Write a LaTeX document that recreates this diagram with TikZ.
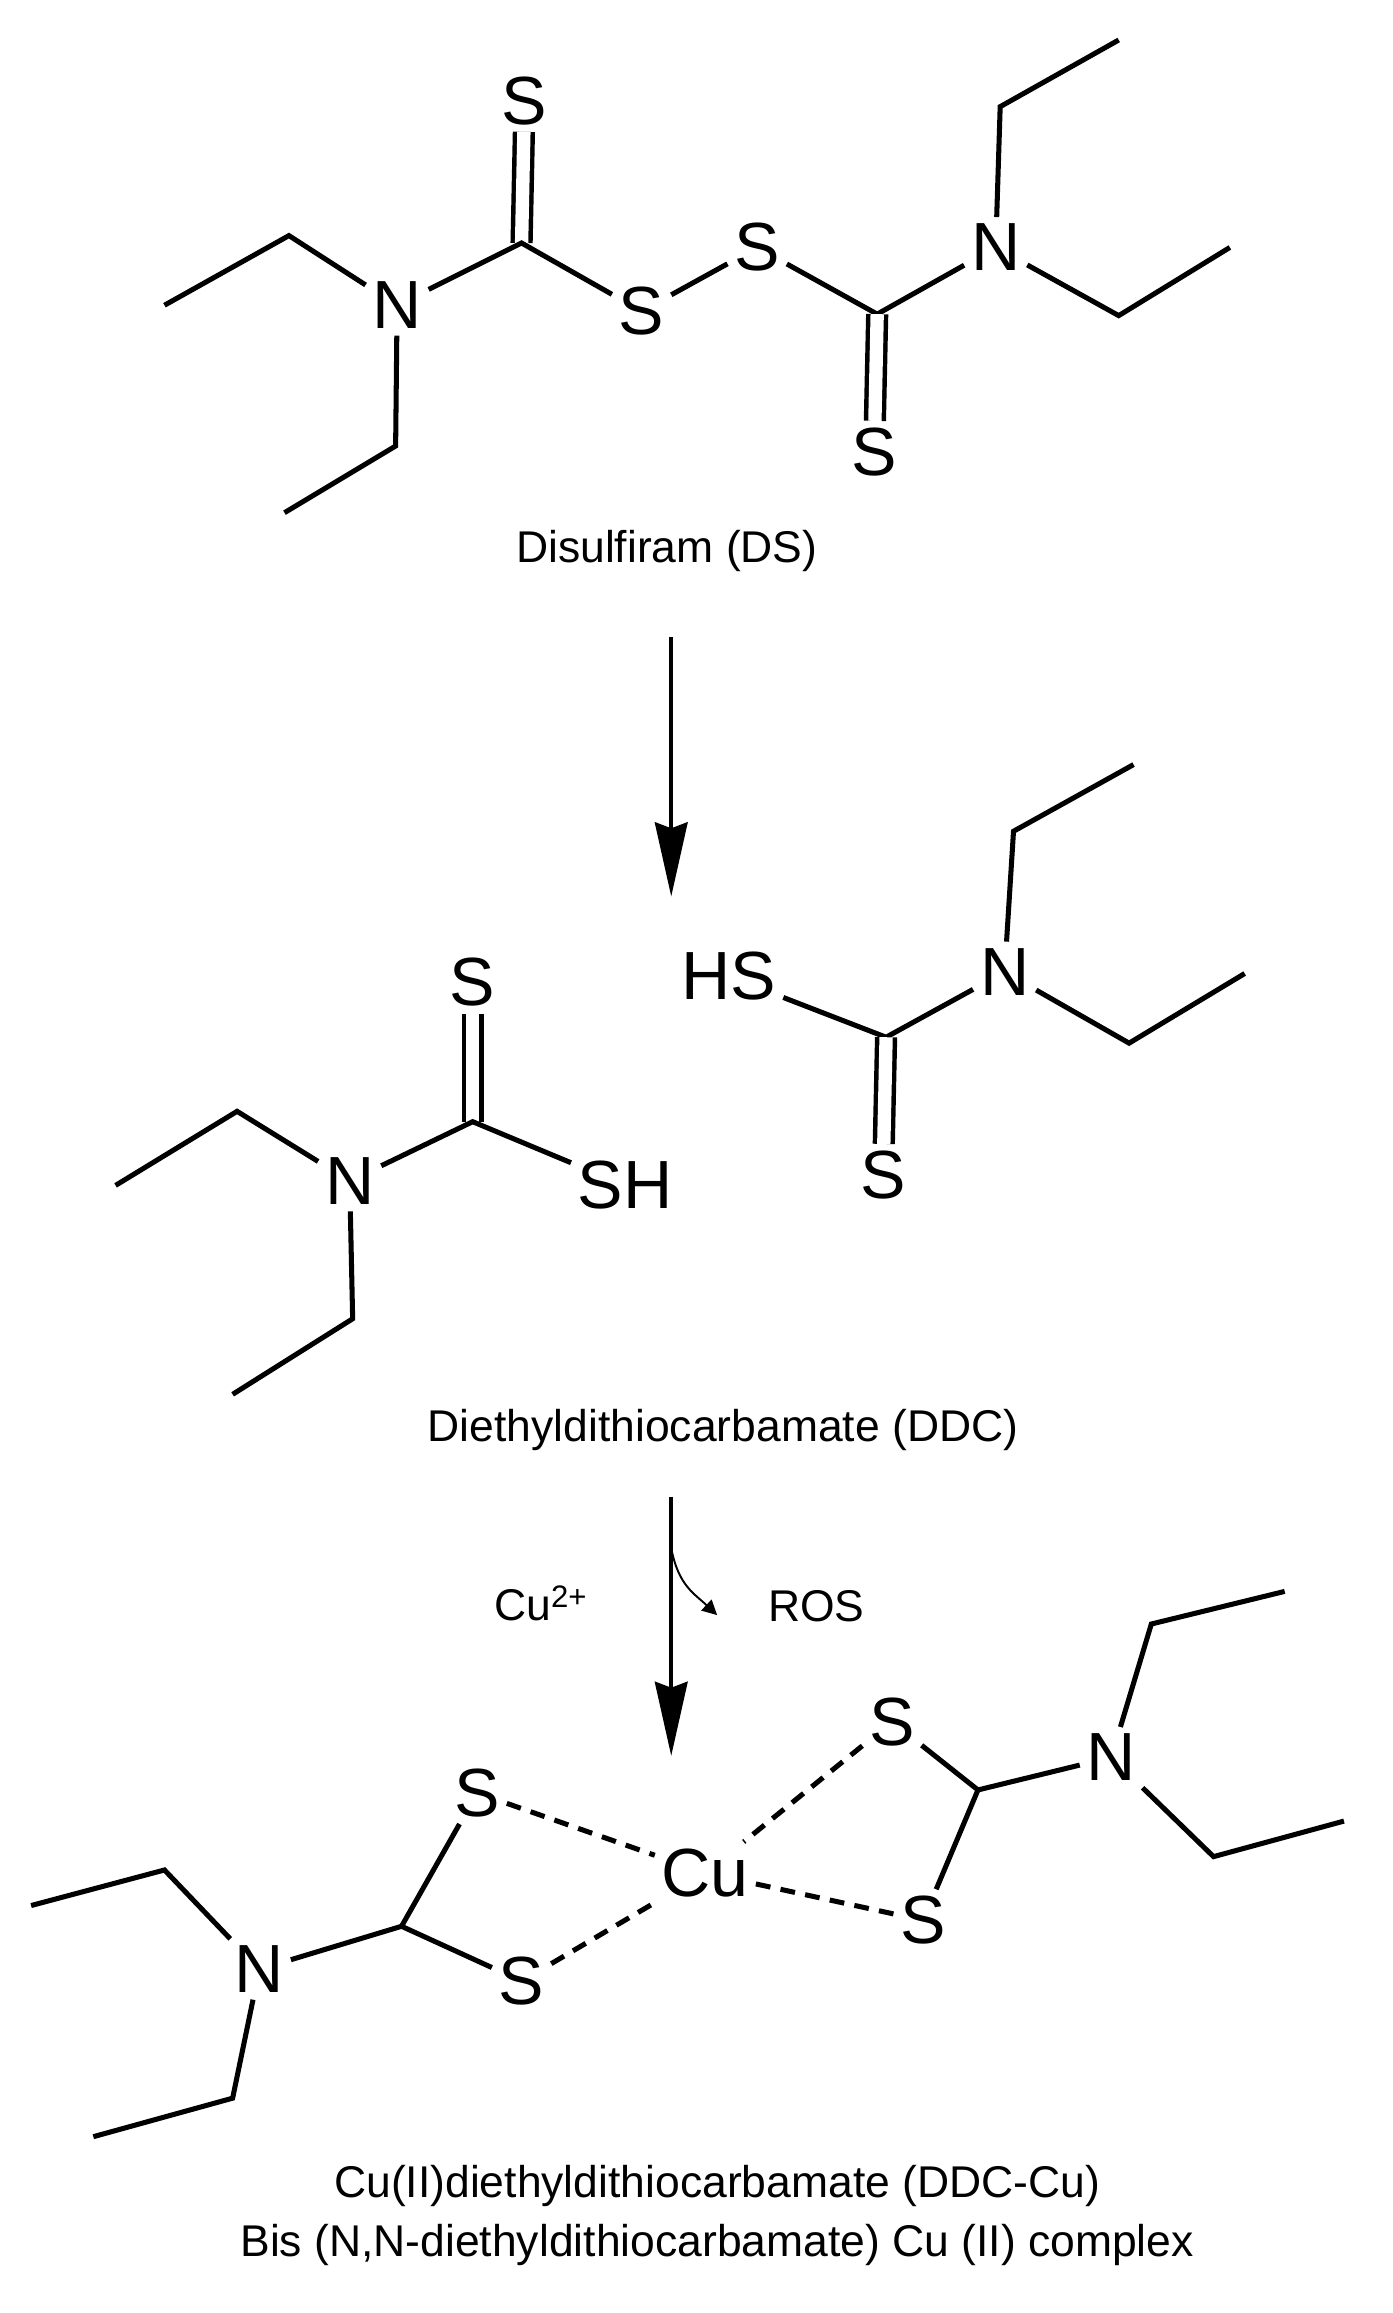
\documentclass[tikz,border=0pt]{standalone}
\usepackage{fontspec}
\setmainfont{Liberation Sans}
\usetikzlibrary{arrows.meta}
\begin{document}
\begin{tikzpicture}[x=1pt,y=-1pt,line width=3.4pt,
  atom/.style={font=\fontsize{46}{46}\selectfont,inner sep=3pt},
  captxt/.style={font=\fontsize{30}{40}\selectfont,align=center},
  dbl/.style={double,double distance=9pt,line width=3pt},
  wk/.style={dash pattern=on 10pt off 7pt},
  bigarrow/.style={line width=2.8pt,-{Stealth[length=50pt,width=22pt,inset=4pt]}}]
\useasboundingbox (0,0) rectangle (940,1561);
% Disulfiram
\node[atom] (s1) at (354,68) {S};
\coordinate (c1) at (352,164);
\node[atom] (n1) at (268,206) {N};
\node[atom] (s2) at (433,210) {S};
\node[atom] (s3) at (511,167) {S};
\coordinate (c2) at (592,212);
\node[atom] (s4) at (590,305) {S};
\node[atom] (n2) at (672,167) {N};
\coordinate (a1) at (195,159); \coordinate (a2) at (111,206);
\coordinate (a3) at (267,301); \coordinate (a4) at (192,346);
\coordinate (a5) at (675,72); \coordinate (a6) at (755,27);
\coordinate (a7) at (755,213); \coordinate (a8) at (830,167);
\draw[dbl] (s1) -- (c1);
\draw (n1) -- (c1) -- (s2) -- (s3) -- (c2) -- (n2);
\draw[dbl] (c2) -- (s4);
\draw (a2) -- (a1) -- (n1) -- (a3) -- (a4);
\draw (a6) -- (a5) -- (n2) -- (a7) -- (a8);
\node[captxt] (t1) at (450,372) {Disulfiram (DS)};
\coordinate (ar1) at (453,430); \coordinate (ar1e) at (453,605);
\draw[bigarrow] (ar1) -- (ar1e);
% DDC left
\node[atom] (s5) at (319,663) {S};
\coordinate (c3) at (319,757);
\node[atom] (n3) at (236,797) {N};
\node[atom] (sh1) at (422,800) {SH};
\coordinate (b1) at (160,750); \coordinate (b2) at (78,800);
\coordinate (b3) at (238,890); \coordinate (b4) at (157,941);
\draw[dbl] (s5) -- (c3);
\draw (n3) -- (c3) -- (sh1);
\draw (b2) -- (b1) -- (n3) -- (b3) -- (b4);
% DDC right
\node[atom] (hs) at (492,659) {HS};
\coordinate (c4) at (598,700);
\node[atom] (s6) at (596,793) {S};
\node[atom] (n4) at (678,656) {N};
\coordinate (d1) at (684,561); \coordinate (d2) at (765,516);
\coordinate (d3) at (762,704); \coordinate (d4) at (840,657);
\draw (hs) -- (c4) -- (n4);
\draw[dbl] (c4) -- (s6);
\draw (d2) -- (d1) -- (n4) -- (d3) -- (d4);
\node[captxt] (t2) at (488,965) {Diethyldithiocarbamate (DDC)};
% arrow 2
\coordinate (ar2) at (453,1010); \coordinate (ar2e) at (453,1185);
\draw[bigarrow] (ar2) -- (ar2e);
\node[captxt] (cu2) at (365,1082) {Cu\textsuperscript{2+}};
\coordinate (r0) at (453,1045); \coordinate (r1) at (484,1090);
\draw[line width=1.3pt,-{Triangle[length=10pt,width=10pt]}] (r0) .. controls (458,1070) and (468,1075) .. (r1);
\node[captxt] (ros) at (551,1084) {ROS};
% Cu complex
\node[atom] (cu) at (476,1264) {Cu};
\node[atom] (s7) at (322,1210) {S};
\node[atom] (s8) at (352,1337) {S};
\coordinate (c5) at (271,1300);
\node[atom] (n5) at (175,1329) {N};
\coordinate (e1) at (111,1262); \coordinate (e2) at (21,1286);
\coordinate (e3) at (157,1416); \coordinate (e4) at (63,1442);
\draw (s7) -- (c5) -- (s8);
\draw (c5) -- (n5);
\draw (e2) -- (e1) -- (n5) -- (e3) -- (e4);
\node[atom] (s9) at (602,1162) {S};
\node[atom] (s10) at (623,1296) {S};
\coordinate (c6) at (660,1208);
\node[atom] (n6) at (750,1186) {N};
\coordinate (f1) at (777,1096); \coordinate (f2) at (867,1074);
\coordinate (f3) at (819,1253); \coordinate (f4) at (907,1229);
\draw (s9) -- (c6) -- (s10);
\draw (c6) -- (n6);
\draw (f2) -- (f1) -- (n6) -- (f3) -- (f4);
\draw[wk] (s7) -- (cu);
\draw[wk] (s8) -- (cu);
\draw[wk] (s9) -- (cu);
\draw[wk] (s10) -- (cu);
\node[captxt] (t3) at (484,1495) {Cu(II)diethyldithiocarbamate (DDC-Cu)\\Bis (N,N-diethyldithiocarbamate) Cu (II) complex};
\end{tikzpicture}
\end{document}
